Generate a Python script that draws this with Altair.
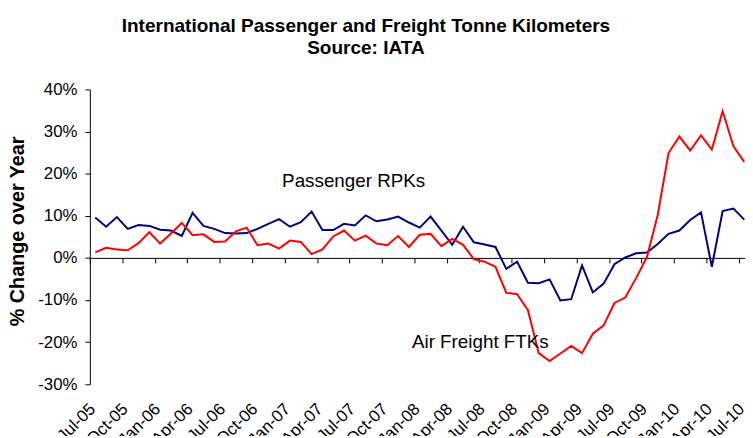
import altair as alt
import pandas as pd

# Monthly categories Jul-05 .. Jul-10
months = pd.period_range("2005-07", "2010-07", freq="M").strftime("%b-%y").tolist()

passenger_rpk = [
    9.6, 7.4, 9.7, 6.9, 7.8, 7.6, 6.7, 6.5, 5.2, 10.7,
    7.6, 6.9, 5.9, 5.8, 5.9, 6.9, 8.1, 9.2, 7.4, 8.5,
    11.0, 6.6, 6.6, 8.1, 7.7, 10.1, 8.7, 9.1, 9.8, 8.4,
    7.2, 9.8, 6.5, 3.1, 7.4, 3.7, 3.2, 2.6, -2.6, -0.9,
    -5.9, -6.0, -5.1, -10.1, -9.8, -1.8, -8.2, -6.1, -1.5, 0.1,
    1.1, 1.3, 3.3, 5.7, 6.5, 9.0, 10.8, -2.1, 11.1, 11.7,
    9.1,
]

freight_ftk = [
    1.3, 2.4, 2.0, 1.8, 3.5, 6.1, 3.4, 5.8, 8.3, 5.4,
    5.6, 3.8, 3.9, 6.3, 7.2, 3.0, 3.4, 2.2, 4.1, 3.8,
    0.9, 2.0, 5.1, 6.5, 4.1, 5.3, 3.4, 3.0, 5.2, 2.6,
    5.5, 5.7, 2.8, 4.5, 3.1, -0.3, -0.9, -2.1, -8.3, -8.6,
    -12.4, -22.6, -24.5, -22.7, -20.9, -22.6, -18.0, -16.0, -10.7, -9.4,
    -4.8, 0.2, 10.2, 24.9, 28.8, 25.5, 29.1, 25.7, 34.8, 26.5,
    22.8,
]

series_names = ["Passenger RPKs", "Air Freight FTKs"]
series_colors = ["#000080", "#FF0000"]
tick_months = months[::3]
y_ticks = [-30, -20, -10, 0, 10, 20, 30, 40]

ann_text = ["Passenger RPKs", "Air Freight FTKs"]
ann_month = ["Dec-06", "Dec-07"]
ann_value = [16.9, -21.4]

df = pd.DataFrame({
    "month": months * 2,
    "value": passenger_rpk + freight_ftk,
    "series": [series_names[0]] * len(months) + [series_names[1]] * len(months),
})
ann = pd.DataFrame({"label": ann_text, "month": ann_month, "value": ann_value})

FONT = "Liberation Sans"
H = 298
W = 662
STEP = 10.93
RANGE = STEP * len(months)

xenc = alt.X(
    "month:O",
    sort=months,
    scale=alt.Scale(type="point", padding=0.5, range=[0, RANGE]),
    axis=alt.Axis(
        values=tick_months,
        title=None,
        labelAngle=-45,
        labelAlign="right",
        labelBaseline="top",
        offset=-H * 30 / 70,
        labelPadding=139,
        tickSize=5,
        tickOffset=-STEP / 2,
        labelOffset=-3,
        domainColor="black",
        tickColor="black",
        labelColor="black",
        labelFont=FONT,
        labelFontSize=17,
        grid=False,
    ),
)
yenc = alt.Y(
    "value:Q",
    scale=alt.Scale(domain=[-30, 40]),
    axis=alt.Axis(
        values=y_ticks,
        labelExpr="datum.value + '%'",
        title="% Change over Year",
        titleFont=FONT,
        titleFontSize=20,
        titleFontWeight="bold",
        titleColor="black",
        titlePadding=10,
        titleY=143,
        labelFont=FONT,
        labelFontSize=17,
        labelColor="black",
        labelPadding=8,
        tickSize=5,
        domainColor="black",
        tickColor="black",
        grid=False,
    ),
)

lines = alt.Chart(df).mark_line(strokeWidth=2).encode(
    x=xenc,
    y=yenc,
    color=alt.Color(
        "series:N",
        scale=alt.Scale(domain=series_names, range=series_colors),
        legend=None,
    ),
)

labels = alt.Chart(ann).mark_text(
    align="left", baseline="alphabetic", font=FONT, fontSize=19, color="black", dx=3
).encode(x=xenc, y=yenc, text="label:N")

chart = (
    alt.layer(lines, labels)
    .properties(
        width=W,
        height=H,
        title=alt.TitleParams(
            text=["International Passenger and Freight Tonne Kilometers", "Source: IATA"],
            font=FONT,
            fontSize=19.2,
            fontWeight="bold",
            color="black",
            anchor="middle",
            dx=-52,
            offset=23,
            lineHeight=22,
        ),
        autosize=alt.AutoSizeParams(type="none"),
        padding={"left": 82.7, "top": 80, "right": 0, "bottom": 50},
    )
    .configure_view(stroke=None)
)

chart.save("out.html", embed_options={"renderer": "svg", "actions": False})
